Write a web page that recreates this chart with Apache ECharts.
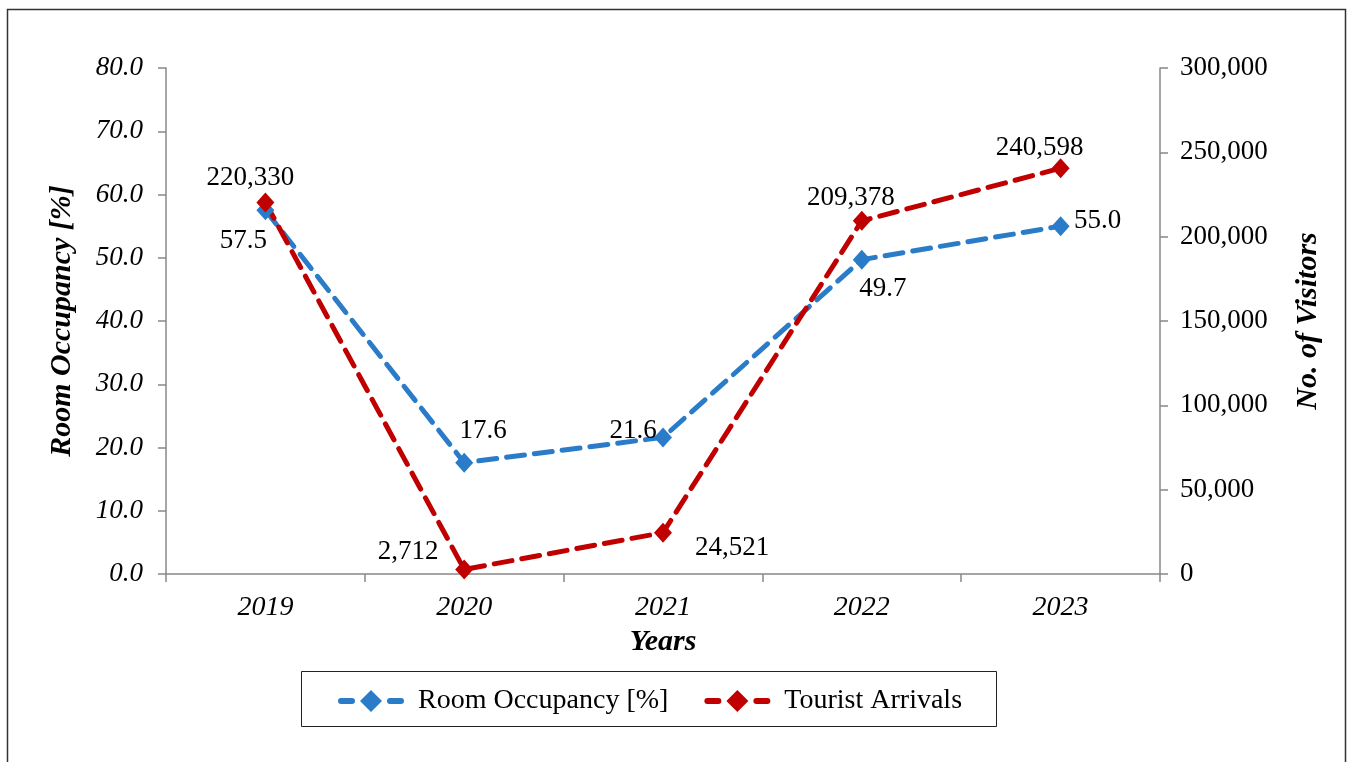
<!DOCTYPE html>
<html><head><meta charset="utf-8">
<script src="https://cdn.jsdelivr.net/npm/echarts@6/dist/echarts.min.js"></script>
<style>html,body{margin:0;padding:0;background:#fff}#c{width:1353px;height:762px}</style>
</head><body><div id="c"></div>
<script>
const years = ['2019','2020','2021','2022','2023'];
const occupancy = [57.5, 17.6, 21.6, 49.7, 55.0];
const arrivals = [220330, 2712, 24521, 209378, 240598];
const leftTicks = {min:0, max:80, interval:10};
const rightTicks = {min:0, max:300000, interval:50000};

const occOffsets = [[-22,31],[19,-32],[-30,-6],[21,29],[37,-5]];
const arrOffsets = [[-15,-24],[-56,-18],[69,15],[-11,-23],[-21,-20]];

const FONT = "'Liberation Serif','Times New Roman',serif";
const BLUE = '#2B7CC8', RED = '#C00000';
const fmtNum = v => Math.round(v).toString().replace(/\B(?=(\d{3})+(?!\d))/g, ',');

const chart = echarts.init(document.getElementById('c'));
const iconPath = 'path://M3,8 h11 a3,3 0 0 1 0,6 h-11 a3,3 0 0 1 0,-6 z M22,11 L33,0 L44,11 L33,22 z M52,8 h11 a3,3 0 0 1 0,6 h-11 a3,3 0 0 1 0,-6 z';

function lbl(off, fmt){
  return {show:true, position:'inside', offset:off, color:'#000', fontFamily:FONT, fontSize:27, formatter:fmt};
}
const titleStyle = {fontFamily:FONT, fontSize:30, fontWeight:'bold', fontStyle:'italic', color:'#000'};
const axisLineStyle = {color:'#888', width:1.5};

chart.setOption({
  animation:false,
  backgroundColor:'#fff',
  graphic:[
    {type:'rect', shape:{x:7.5,y:9.5,width:1338,height:800}, style:{fill:'none', stroke:'#333', lineWidth:1.5}},
    {type:'rect', shape:{x:301.5,y:671.5,width:695,height:55}, style:{fill:'none', stroke:'#222', lineWidth:1}}
  ],
  grid:{left:166, right:193, top:68, bottom:188},
  legend:{
    left:333, top:682, itemWidth:66, itemHeight:22, itemGap:36,
    textStyle:{fontFamily:FONT, fontSize:28, color:'#000', padding:[0,0,0,9]},
    data:[{name:'Room Occupancy [%]', icon:iconPath},{name:'Tourist Arrivals', icon:iconPath}]
  },
  xAxis:{
    type:'category', data:years, boundaryGap:true,
    name:'Years', nameLocation:'middle', nameGap:52, nameTextStyle:titleStyle,
    axisLine:{lineStyle:axisLineStyle},
    axisTick:{show:true, length:8, lineStyle:axisLineStyle},
    axisLabel:{fontFamily:FONT, fontSize:28, fontStyle:'italic', color:'#000', margin:20},
    splitLine:{show:false}
  },
  yAxis:[
    {type:'value', min:leftTicks.min, max:leftTicks.max, interval:leftTicks.interval, position:'left',
     name:'Room Occupancy [%]', nameLocation:'middle', nameGap:89, nameRotate:90, nameTextStyle:titleStyle,
     axisLine:{show:true, lineStyle:axisLineStyle},
     axisTick:{show:true, length:8, lineStyle:axisLineStyle},
     axisLabel:{fontFamily:FONT, fontSize:27, fontStyle:'italic', color:'#000', margin:23, formatter:v=>v.toFixed(1)},
     splitLine:{show:false}},
    {type:'value', min:rightTicks.min, max:rightTicks.max, interval:rightTicks.interval, position:'right',
     name:'No. of Visitors', nameLocation:'middle', nameGap:133, nameRotate:90, nameTextStyle:titleStyle,
     axisLine:{show:true, lineStyle:axisLineStyle},
     axisTick:{show:true, length:8, lineStyle:axisLineStyle},
     axisLabel:{fontFamily:FONT, fontSize:27, color:'#000', margin:20, formatter:fmtNum},
     splitLine:{show:false}}
  ],
  series:[
    {name:'Room Occupancy [%]', type:'line', yAxisIndex:0, color:BLUE,
     symbol:'diamond', symbolSize:[18,20],
     lineStyle:{type:[18,10], width:5, cap:'round', color:BLUE},
     itemStyle:{color:BLUE},
     data: occupancy.map((v,i)=>({value:v, label:lbl(occOffsets[i], p=>p.value.toFixed(1))}))},
    {name:'Tourist Arrivals', type:'line', yAxisIndex:1, color:RED,
     symbol:'diamond', symbolSize:[18,20],
     lineStyle:{type:[18,10], width:5, cap:'round', color:RED},
     itemStyle:{color:RED},
     data: arrivals.map((v,i)=>({value:v, label:lbl(arrOffsets[i], p=>fmtNum(p.value))}))}
  ]
});
</script></body></html>
